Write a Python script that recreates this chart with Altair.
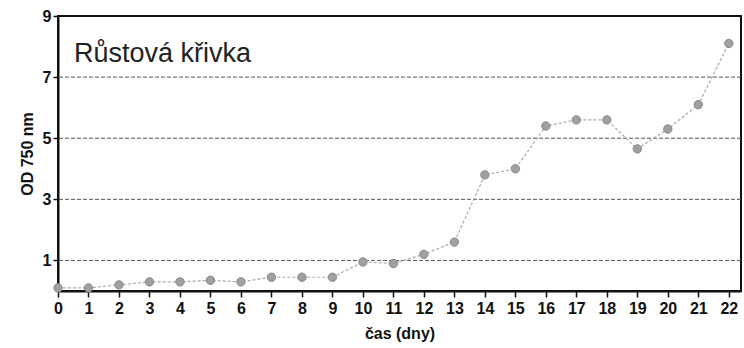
import altair as alt
import pandas as pd

days = list(range(0, 23))
od = [0.1, 0.1, 0.2, 0.3, 0.3, 0.35, 0.3, 0.45, 0.45, 0.45, 0.95, 0.9, 1.2, 1.6,
      3.8, 4.0, 5.4, 5.6, 5.6, 4.65, 5.3, 6.1, 8.1]
y_ticks = [1, 3, 5, 7, 9]
grid_values = [1, 3, 5, 7]
title_text = ["Růstová křivka"]

df = pd.DataFrame({"day": days, "od": od})
FONT = "Liberation Sans"

x_axis = alt.Axis(values=days, title="čas (dny)", format="d", grid=False,
                  labelFont=FONT, labelFontSize=16, labelFontWeight="bold",
                  labelColor="#111", titleFont=FONT, titleFontSize=16,
                  titleFontWeight="bold", titleColor="#111",
                  tickSize=6, tickColor="#111", tickWidth=1.5,
                  domainColor="#111", domainWidth=2, labelPadding=3,
                  titlePadding=9, labelFlush=False)
y_axis = alt.Axis(values=y_ticks, title="OD 750 nm", grid=False,
                  labelFont=FONT, labelFontSize=16, labelFontWeight="bold",
                  labelColor="#111", titleFont=FONT, titleFontSize=16,
                  titleFontWeight="bold", titleColor="#111",
                  tickSize=5, tickColor="#111", tickWidth=1.5,
                  domainColor="#111", domainWidth=2, labelPadding=2,
                  titlePadding=7)
x_scale = alt.Scale(domain=[0, 22.4], nice=False, zero=False)
y_scale = alt.Scale(domain=[0, 9], nice=False)

x = alt.X("day:Q", scale=x_scale, axis=x_axis)
y = alt.Y("od:Q", scale=y_scale, axis=y_axis)

grid = alt.Chart(pd.DataFrame({"g": grid_values})).mark_rule(
    color="#555", strokeWidth=1, strokeDash=[4, 2]
).encode(y=alt.Y("g:Q", scale=y_scale, axis=y_axis))

line = alt.Chart(df).mark_line(color="#aaa", strokeWidth=1.2, strokeDash=[3, 2]).encode(x=x, y=y)
pts = alt.Chart(df).mark_point(filled=True, size=70, color="#a0a0a0", opacity=1,
                               stroke="#888", strokeWidth=1).encode(x=x, y=y)

title = alt.Chart(pd.DataFrame({"t": title_text})).mark_text(
    font=FONT, fontSize=27, align="left", baseline="alphabetic", color="#222"
).encode(text="t:N", x=alt.value(16), y=alt.value(46))

chart = alt.layer(grid, line, pts, title).properties(
    width=683, height=275,
    autosize=alt.AutoSizeParams(type="none"),
    padding={"left": 58, "top": 16, "right": 3, "bottom": 57},
).configure(background="white").configure_view(stroke="#111", strokeWidth=2)

chart.save("out.html", embed_options={"renderer": "svg", "actions": False})
